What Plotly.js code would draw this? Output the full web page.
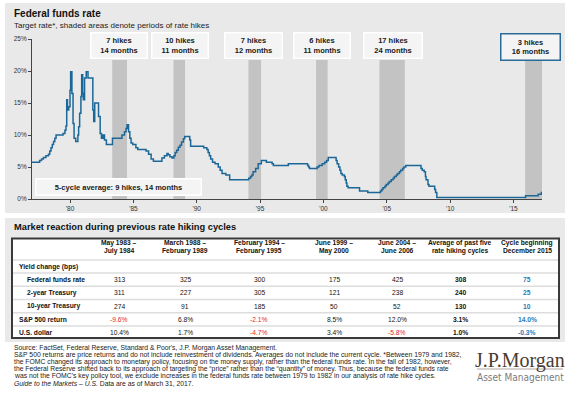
<!DOCTYPE html>
<html>
<head>
<meta charset="utf-8">
<script src="https://cdn.plot.ly/plotly-3.0.1.min.js"></script>
<style>
html,body{margin:0;padding:0;background:#ffffff;}
#chart{width:580px;height:395px;}
</style>
</head>
<body>
<div id="chart"></div>
<script>
// ---------- DATA ----------
// Federal funds target rate (decimal year, percent)
const rateYears = [
  1977.00,1977.60,1977.75,1977.90,1978.10,1978.30,1978.40,1978.50,1978.60,1978.70,1978.80,1978.90,
  1979.45,1979.60,1979.68,1979.74,1979.80,1979.90,1980.00,1980.05,1980.15,1980.24,1980.32,1980.45,
  1980.62,1980.68,1980.76,1980.86,1980.92,1981.00,1981.05,1981.15,1981.28,1981.42,1981.80,1981.87,
  1981.95,1982.25,1982.38,1982.48,1982.60,1982.72,1982.87,1983.35,1984.10,1984.30,1984.42,1984.50,
  1984.62,1984.72,1984.82,1984.95,1985.20,1985.35,1986.00,1986.20,1986.40,1986.58,1987.25,1987.45,
  1987.65,1987.75,1987.88,1988.05,1988.20,1988.30,1988.42,1988.55,1988.68,1988.80,1988.95,1989.05,
  1989.45,1989.52,1990.55,1990.80,1990.90,1991.00,1991.10,1991.25,1991.45,1991.70,1991.85,1992.00,
  1992.30,1992.60,1994.10,1994.25,1994.35,1994.45,1994.65,1994.85,1995.10,1995.50,1995.95,1996.05,
  1997.23,1998.75,1998.83,1998.90,1999.50,1999.65,1999.90,2000.10,2000.25,2000.38,2001.00,2001.08,
  2001.20,2001.30,2001.38,2001.48,2001.65,2001.72,2001.80,2001.85,2001.95,2002.85,2003.50,2004.50,
  2004.60,2004.70,2004.85,2004.95,2005.10,2005.20,2005.35,2005.50,2005.60,2005.75,2005.85,2006.00,
  2006.10,2006.25,2006.35,2006.50,2007.70,2007.80,2007.95,2008.05,2008.10,2008.25,2008.33,2008.78,
  2008.85,2008.95,2015.95,2016.95,2017.20,2017.25
];
const rateValues = [
  5.75,6.00,6.25,6.50,6.75,7.00,7.50,8.00,8.50,9.00,9.50,10.00,
  10.25,10.75,11.40,15.50,13.90,14.40,17.00,19.90,16.50,11.80,9.50,9.00,
  10.00,11.30,13.40,16.00,19.40,16.50,15.50,18.90,19.90,18.90,13.90,12.10,
  15.00,12.90,10.25,9.50,10.00,9.20,8.50,9.50,10.00,10.50,11.00,11.60,
  10.50,9.50,8.75,8.50,8.00,7.75,7.50,7.00,6.25,5.90,6.40,6.75,
  7.10,6.90,6.60,6.40,6.75,7.25,7.60,8.10,8.40,8.90,9.40,9.75,
  9.20,8.25,8.00,7.75,7.25,6.75,6.25,5.75,5.50,5.00,4.50,4.00,
  3.75,3.00,3.25,3.50,3.75,4.25,4.75,5.50,6.00,5.75,5.50,5.25,
  5.50,5.25,5.00,4.75,5.00,5.25,5.50,5.75,6.00,6.50,6.00,5.50,
  5.00,4.50,4.00,3.75,3.50,3.00,2.50,2.00,1.75,1.25,1.00,1.25,
  1.50,1.75,2.00,2.25,2.50,2.75,3.00,3.25,3.50,3.75,4.00,4.25,
  4.50,4.75,5.00,5.25,4.75,4.50,4.25,3.50,3.00,2.25,2.00,1.50,
  1.00,0.25,0.50,0.75,1.00,1.00
];

// Rate hiking cycles (decimal years)
const cycleStart  = [1983.33, 1988.17, 1994.08, 1999.42, 2004.42, 2015.92];
const cycleEnd    = [1984.50, 1989.08, 1995.08, 2000.33, 2006.42, 2017.25];
const cycleHikes  = ['7 hikes', '10 hikes', '7 hikes', '6 hikes', '17 hikes', '3 hikes'];
const cycleMonths = ['14 months', '11 months', '12 months', '11 months', '24 months', '16 months'];
const averageLabel = '5-cycle average: 9 hikes, 14 months';

const xTickVals = [1980, 1985, 1990, 1995, 2000, 2005, 2010, 2015];
const xTickText = ["'80", "'85", "'90", "'95", "'00", "'05", "'10", "'15"];
const yTickVals = [0, 5, 10, 15, 20, 25];
const yTickText = ['0%', '5%', '10%', '15%', '20%', '25%'];

// Table
const headerLine1 = ['May 1983 –', 'March 1988 –', 'February 1994 –', 'June 1999 –', 'June 2004 –', 'Average of past five', 'Cycle beginning'];
const headerLine2 = ['July 1984', 'February 1989', 'February 1995', 'May 2000', 'June 2006', 'rate hiking cycles', 'December 2015'];
const rowLabels = ['Yield change (bps)', 'Federal funds rate', '2-year Treasury', '10-year Treasury', 'S&P 500 return', 'U.S. dollar'];
const rowIndented = [false, true, true, true, false, false];
const fedFundsChange = [313, 325, 300, 175, 425, 308, 75];
const twoYearChange  = [311, 227, 305, 121, 238, 240, 25];
const tenYearChange  = [274, 91, 185, 50, 52, 130, 10];
const sp500Return    = [-9.6, 6.8, -2.1, 8.5, 12.0, 3.1, 14.0];
const usDollarChange = [10.4, 1.7, -4.7, 3.4, -5.8, 1.0, -0.3];

const footnotes = [
  "Source: FactSet, Federal Reserve, Standard & Poor's, J.P. Morgan Asset Management.",
  "S&P 500 returns are price returns and do not include reinvestment of dividends. Averages do not include the current cycle. *Between 1979 and 1982,",
  "the FOMC changed its approach to monetary policy, focusing on the money supply, rather than the federal funds rate. In the fall of 1982, however,",
  "the Federal Reserve shifted back to its approach of targeting the \u201cprice\u201d rather than the \u201cquantity\u201d of money. Thus, because the federal funds rate",
  "was not the FOMC's key policy tool, we exclude increases in the federal funds rate between 1979 to 1982 in our analysis of rate hike cycles.",
  "<i>Guide to the Markets \u2013 U.S.</i> Data are as of March 31, 2017."
];

// ---------- LAYOUT HELPERS ----------
const W = 580, H = 395;
const px = v => v / W;
const py = v => 1 - v / H;
const FONT = 'Liberation Sans, Arial, Helvetica, sans-serif';
const BLUE_LINE = '#1b6898';
const RED = '#e3262d';
const BLUE_TXT = '#2a7ab8';

const boxCenterX = [119, 180, 253.5, 322, 393, 530.5];
const boxWidth   = [58, 58, 59, 58, 60, 61];
const footnoteY  = [347.5, 354.5, 361.5, 368.5, 375.5, 383];
const colCenterX = [119, 185, 259, 334, 397, 460, 527];
const headerY    = [243, 251];
const rowTopY    = 266.5, rowStep = 13.2;
const labelX = 17, indentX = 25;

// ---------- TRACES ----------
const lineTrace = {
  type: 'scatter', mode: 'lines', x: rateYears, y: rateValues,
  line: {color: BLUE_LINE, width: 1.5, shape: 'hv'},
  hoverinfo: 'skip', showlegend: false
};

// ---------- SHAPES ----------
const shapes = [
  {type: 'rect', xref: 'paper', yref: 'paper', x0: px(5), x1: px(565), y0: py(213), y1: py(3), fillcolor: '#e9e9e9', line: {width: 0}, layer: 'below'},
  {type: 'rect', xref: 'paper', yref: 'paper', x0: px(5), x1: px(565), y0: py(342), y1: py(218), fillcolor: '#e9e9e9', line: {width: 0}, layer: 'below'},
  {type: 'rect', xref: 'paper', yref: 'paper', x0: px(12), x1: px(559), y0: py(338), y1: py(238.5), fillcolor: '#ffffff', line: {color: '#3a3a3a', width: 2}, layer: 'below'}
];
cycleStart.forEach((s, i) => shapes.push({
  type: 'rect', xref: 'x', yref: 'y', x0: s, x1: cycleEnd[i], y0: 0, y1: 21.7,
  fillcolor: '#c3c3c3', line: {width: 0}, layer: 'below'
}));
for (let r = 0; r < rowLabels.length; r++) {
  const y = rowTopY - rowStep / 2 + r * rowStep;
  shapes.push({
    type: 'line', xref: 'paper', yref: 'paper', x0: px(13), x1: px(558), y0: py(y), y1: py(y),
    line: {color: '#dddddd', width: 1.5}, layer: 'below'
  });
}
shapes.push({type: 'line', xref: 'paper', yref: 'paper', x0: px(477), x1: px(563), y0: py(369), y1: py(369), line: {color: '#8c8078', width: 0.7}});

// ---------- ANNOTATIONS ----------
const ann = [];
ann.push({text: '<b>Federal funds rate</b>', x: px(12), y: py(14), xanchor: 'left', yanchor: 'middle', font: {family: FONT, size: 10, color: '#111'}});
ann.push({text: 'Target rate*, shaded areas denote periods of rate hikes', x: px(12), y: py(25.5), xanchor: 'left', yanchor: 'middle', font: {family: FONT, size: 8, color: '#222'}});
cycleHikes.forEach((h, i) => {
  const last = i === cycleHikes.length - 1;
  ann.push({
    text: '<b>' + h + '<br>' + cycleMonths[i] + '</b>',
    x: px(boxCenterX[i]), y: py(last ? 47 : 45.5), xanchor: 'center', yanchor: 'middle',
    width: boxWidth[i] - 3, height: last ? 25 : 24,
    bgcolor: '#f4f4f4', bordercolor: last ? '#2a6b98' : '#ffffff', borderwidth: 1.5, borderpad: 0,
    font: {family: FONT, size: 7.5, color: '#1a1a1a'}
  });
});
ann.push({
  text: '<b>' + averageLabel + '</b>', x: px(118.5), y: py(187), xanchor: 'center', yanchor: 'middle',
  width: 164, height: 15, bgcolor: '#f4f4f4', bordercolor: '#ffffff', borderwidth: 1.5, borderpad: 0,
  font: {family: FONT, size: 7.5, color: '#1a1a1a'}
});
ann.push({text: '<b>Market reaction during previous rate hiking cycles</b>', x: px(12), y: py(227.5), xanchor: 'left', yanchor: 'middle', font: {family: FONT, size: 9.3, color: '#111'}});

// table header
[headerLine1, headerLine2].forEach((line, k) => line.forEach((t, j) => ann.push({
  text: '<b>' + t + '</b>', x: px(colCenterX[j]), y: py(headerY[k]), xanchor: 'center', yanchor: 'middle',
  font: {family: FONT, size: 6.7, color: '#111'}
})));
// table rows
const fmtPct = v => v.toFixed(1) + '%';
const tableRows = [
  null,
  fedFundsChange.map(v => ({text: String(v), neg: v < 0})),
  twoYearChange.map(v => ({text: String(v), neg: v < 0})),
  tenYearChange.map(v => ({text: String(v), neg: v < 0})),
  sp500Return.map(v => ({text: fmtPct(v), neg: v < 0})),
  usDollarChange.map(v => ({text: fmtPct(v), neg: v < 0}))
];
rowLabels.forEach((label, r) => {
  const y = py(rowTopY + r * rowStep);
  ann.push({text: '<b>' + label + '</b>', x: px(rowIndented[r] ? indentX : labelX), y: y, xanchor: 'left', yanchor: 'middle',
    font: {family: FONT, size: 6.7, color: '#111'}});
  if (!tableRows[r]) return;
  tableRows[r].forEach((c, j) => {
    const isAvg = j === 5, isCurrent = j === 6;
    const color = isCurrent ? BLUE_TXT : (c.neg && !isAvg ? RED : '#111');
    ann.push({text: (isAvg || isCurrent) ? '<b>' + c.text + '</b>' : c.text,
      x: px(colCenterX[j]), y: y, xanchor: 'center', yanchor: 'middle',
      font: {family: FONT, size: 6.7, color: color}});
  });
});

footnotes.forEach((t, i) => ann.push({text: t, x: px(12), y: py(footnoteY[i]), xanchor: 'left', yanchor: 'middle', font: {family: FONT, size: 6.8, color: '#222'}}));
ann.push({text: 'J.P.Morgan', x: px(520), y: py(360), xanchor: 'center', yanchor: 'middle', font: {family: 'Liberation Serif, Times New Roman, serif', size: 20, color: '#4b3b30'}});
ann.push({text: 'Asset Management', x: px(520), y: py(377.5), xanchor: 'center', yanchor: 'middle', font: {family: 'Liberation Sans Narrow, DejaVu Sans Condensed, Liberation Sans, Arial, sans-serif', size: 10, color: '#7b7b7b'}});
ann.forEach(a => { a.xref = 'paper'; a.yref = 'paper'; a.showarrow = false; });

// ---------- LAYOUT ----------
const layout = {
  width: W, height: H,
  margin: {l: 0, r: 0, t: 0, b: 0, pad: 0},
  paper_bgcolor: '#ffffff', plot_bgcolor: 'rgba(0,0,0,0)',
  showlegend: false, hovermode: false,
  font: {family: FONT, size: 6.5, color: '#333'},
  xaxis: {
    domain: [px(32), px(542)], range: [1977, 2017.25], fixedrange: true,
    tickmode: 'array', tickvals: xTickVals, ticktext: xTickText,
    showgrid: false, zeroline: false, showline: true, linecolor: '#444', linewidth: 1,
    ticks: 'outside', ticklen: 3, tickcolor: '#444', tickfont: {family: FONT, size: 6.5, color: '#333'}
  },
  yaxis: {
    domain: [py(199), py(39)], range: [0, 25], fixedrange: true,
    tickmode: 'array', tickvals: yTickVals, ticktext: yTickText,
    showgrid: false, zeroline: false, showline: true, linecolor: '#444', linewidth: 1,
    ticks: 'outside', ticklen: 3, tickcolor: '#444', tickfont: {family: FONT, size: 6.5, color: '#333'}
  },
  shapes: shapes,
  annotations: ann
};

Plotly.newPlot('chart', [lineTrace], layout, {staticPlot: true, displayModeBar: false});
</script>
</body>
</html>
